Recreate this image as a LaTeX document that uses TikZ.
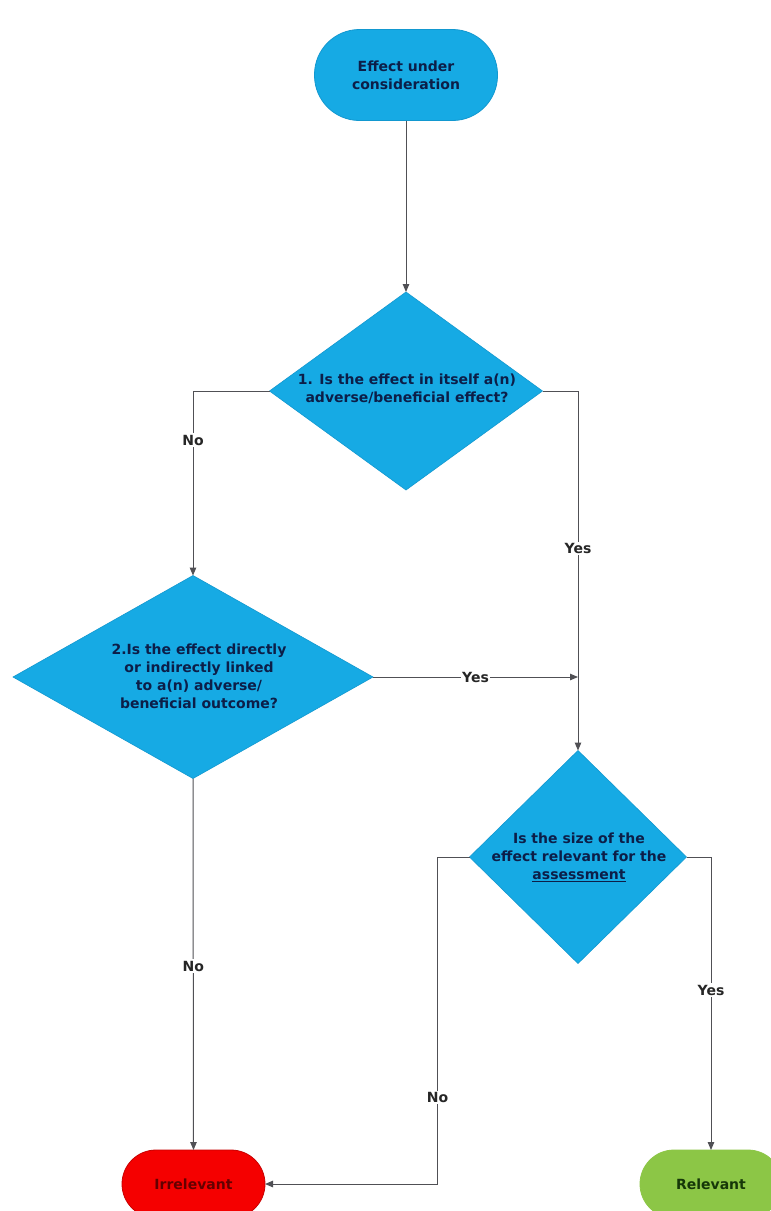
\documentclass[tikz,border=0pt]{standalone}
\usepackage{fontspec}
\setmainfont{DejaVu Sans}
\usetikzlibrary{shapes.geometric,arrows.meta}
\definecolor{boxblue}{RGB}{22,170,228}
\definecolor{boxblueb}{RGB}{18,152,208}
\definecolor{navy}{RGB}{12,30,72}
\definecolor{redfill}{RGB}{245,0,0}
\definecolor{redborder}{RGB}{200,0,0}
\definecolor{redtext}{RGB}{100,0,0}
\definecolor{greenfill}{RGB}{140,198,70}
\definecolor{greentext}{RGB}{22,55,8}
\definecolor{linegray}{RGB}{80,80,85}
\newcommand{\diafont}{\bfseries\fontsize{14}{18}\selectfont}
\begin{document}
\begin{tikzpicture}[x=1pt,y=-1pt,
  conn/.style={draw=linegray, line width=1pt},
  arr/.style={conn, -{Triangle[length=8pt,width=6.5pt]}},
  lab/.style={fill=white, inner sep=1.5pt, font=\diafont, text=black!85},
  dia/.style={diamond, fill=boxblue, draw=boxblueb, line width=0.6pt, inner sep=0pt, outer sep=0pt},
  txt/.style={align=center, font=\diafont, text=navy, inner sep=0pt},
  term/.style={rectangle, line width=0.8pt, font=\diafont, align=center, inner sep=0pt, outer sep=0pt}]
\useasboundingbox (0,0) rectangle (771,1211);
\clip (0,0) rectangle (771,1211);
\fill[white] (0,0) rectangle (771,1211);

\node[term, fill=boxblue, draw=boxblueb, text=navy, minimum width=183pt, minimum height=91pt, rounded corners=45pt] (start) at (406,75) {Effect under\\consideration};

\node[dia, minimum width=273pt, minimum height=198pt] (d1) at (406,391) {};
\node[txt] (d1t) at (407,389) {1. Is the effect in itself a(n)\\adverse/beneficial effect?};

\node[dia, minimum width=360pt, minimum height=203pt] (d2) at (193,677) {};
\node[txt] (d2t) at (199,676) {2.Is the effect directly\\or indirectly linked\\to a(n) adverse/\\beneficial outcome?};

\node[dia, minimum width=217pt, minimum height=213pt] (d3) at (578,857) {};
\node[txt] (d3t) at (579,857) {Is the size of the\\effect relevant for the\\\underline{assessment}};

\node[term, fill=redfill, draw=redborder, text=redtext, minimum width=143pt, minimum height=68pt, rounded corners=34pt] (irr) at (193.5,1184) {Irrelevant};
\node[term, fill=greenfill, draw=greenfill, text=greentext, minimum width=142pt, minimum height=68pt, rounded corners=34pt] (rel) at (711,1184) {Relevant};

\coordinate (j) at (d3.north |- d2.east);

\draw[arr] (start.south) -- (d1.north);
\draw[arr] (d1.west) -| node[lab, pos=0.633] {No} (d2.north);
\draw[arr] (d1.east) -| node[lab, pos=0.719] {Yes} (d3.north);
\draw[arr] (d2.east) -- node[lab, pos=0.5] {Yes} (j);
\draw[arr] (d2.south) -- node[lab, pos=0.505] {No} (irr.north);
\draw[arr] (d3.west) -- ++(-32,0) |- node[lab, pos=0.368] {No} (irr.east);
\draw[arr] (d3.east) -| node[lab, pos=0.727] {Yes} (rel.north);
\end{tikzpicture}
\end{document}
